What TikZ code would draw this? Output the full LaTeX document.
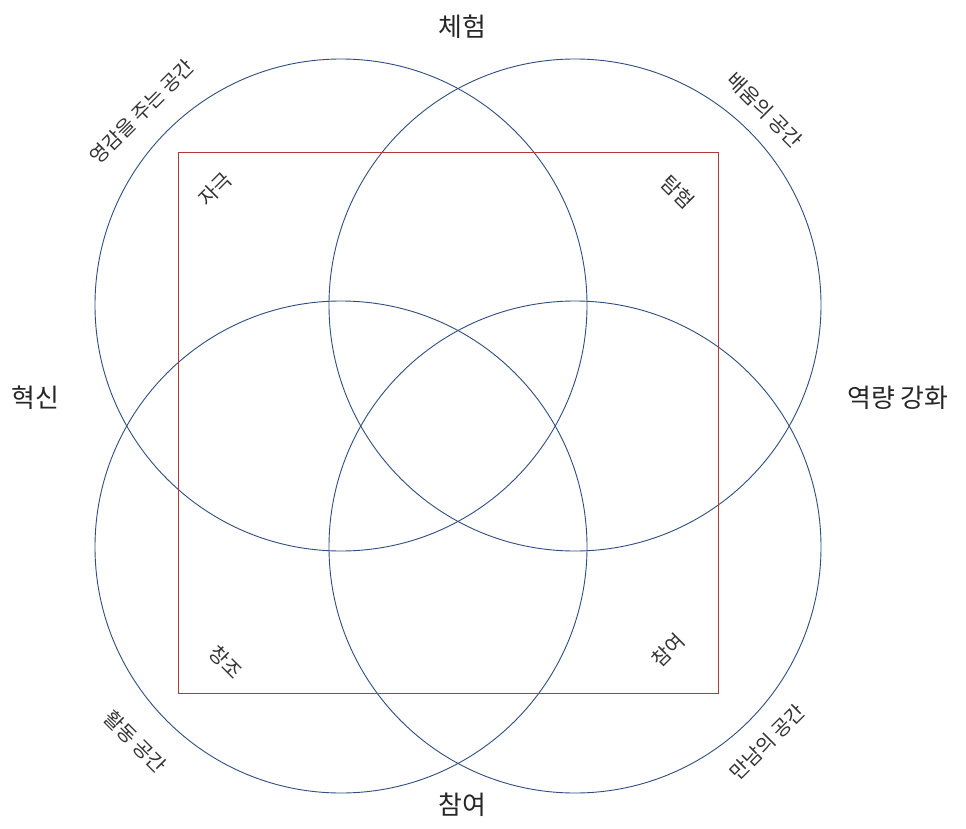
\documentclass[tikz,border=0pt]{standalone}
\usepackage{fontspec}
\setmainfont{Noto Sans CJK KR}
\usetikzlibrary{positioning}

\definecolor{ringblue}{HTML}{2F4D7E}
\definecolor{framered}{HTML}{B03A3A}

\begin{document}
\begin{tikzpicture}[x=1bp, y=-1bp,
    ring/.style={draw=ringblue, line width=0.9bp, circle, minimum size=492bp, inner sep=0pt},
    frame/.style={draw=framered, line width=0.9bp, minimum width=540bp, minimum height=541bp, inner sep=0pt},
    title/.style={font=\fontsize{26}{30}\selectfont, text=black!85},
    side/.style={font=\fontsize{20}{24}\selectfont, text=black!80},
    inner/.style={font=\fontsize{20}{24}\selectfont, text=black!80}]
    \useasboundingbox[fill=white] (0,0) rectangle (966,829);

    % four circles and the frame
    \node[ring] (tl) at (341,305) {};
    \node[ring] (tr) at (575,305) {};
    \node[ring] (bl) at (341,547) {};
    \node[ring] (br) at (575,547) {};
    \node[frame] (box) at (448,422.5) {};

    % outer titles
    \node[title] (top) at (462,27) {체험};
    \node[title] (left) at (35,398) {혁신};
    \node[title] (right) at (898,398) {역량 강화};
    \node[title] (bottom) at (462,805) {참여};

    % diagonal labels
    \node[side, rotate=45] (inspire) at (142,112) {영감을 주는 공간};
    \node[side, rotate=-45] (learn) at (765,110) {배움의 공간};
    \node[side, rotate=-45] (act) at (135,742) {활동 공간};
    \node[side, rotate=45] (meet) at (767,742) {만남의 공간};

    % corners of the frame
    \node[inner, rotate=45] (stim) at (215,189) {자극};
    \node[inner, rotate=-45] (explore) at (678,192) {탐험};
    \node[inner, rotate=-45] (create) at (226,662) {창조};
    \node[inner, rotate=45] (join) at (668,650) {참여};
\end{tikzpicture}
\end{document}
